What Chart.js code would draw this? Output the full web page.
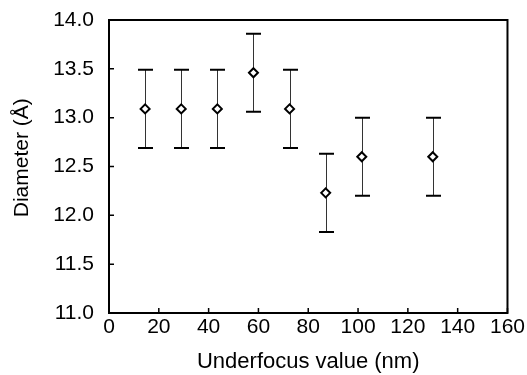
<!DOCTYPE html>
<html>
<head>
<meta charset="utf-8">
<script src="https://cdn.jsdelivr.net/npm/chart.js@4"></script>
<style>
  html, body { margin: 0; padding: 0; background: #fff; }
  #wrap { width: 527px; height: 375px; }
</style>
</head>
<body>
<div id="wrap"><canvas id="chart" width="527" height="375"></canvas></div>
<script>
// data
const underfocus = [14.5, 29, 43.5, 58, 72.5, 87, 101.5, 130];
const diameter = [13.09, 13.09, 13.09, 13.46, 13.09, 12.23, 12.6, 12.6];
const errUp = [0.4, 0.4, 0.4, 0.4, 0.4, 0.4, 0.4, 0.4];
const errDown = [0.4, 0.4, 0.4, 0.4, 0.4, 0.4, 0.4, 0.4];

const FONT = 'Liberation Sans, Arial, Helvetica, sans-serif';

// vertical error bars with caps, under the markers
const errorBars = {
    id: 'errorBars',
    beforeDatasetsDraw(chart) {
        const ctx = chart.ctx;
        const xs = chart.scales.x, ys = chart.scales.y;
        ctx.save();
        underfocus.forEach((x, i) => {
            const px = Math.round(xs.getPixelForValue(x)) + 0.5;
            const top = ys.getPixelForValue(diameter[i] + errUp[i]);
            const bot = ys.getPixelForValue(diameter[i] - errDown[i]);
            ctx.strokeStyle = '#333';
            ctx.lineWidth = 1;
            ctx.beginPath();
            ctx.moveTo(px, top);
            ctx.lineTo(px, bot);
            ctx.stroke();
            ctx.strokeStyle = '#000';
            ctx.lineWidth = 2;
            ctx.beginPath();
            ctx.moveTo(px - 7.5, top); ctx.lineTo(px + 7.5, top);
            ctx.moveTo(px - 7.5, bot); ctx.lineTo(px + 7.5, bot);
            ctx.stroke();
        });
        ctx.restore();
    }
};

// frame around plot area and inward tick marks
const frame = {
    id: 'frame',
    afterDraw(chart) {
        const ctx = chart.ctx;
        const a = chart.chartArea;
        const xs = chart.scales.x, ys = chart.scales.y;
        ctx.save();
        ctx.strokeStyle = '#000';
        ctx.lineWidth = 2;
        ctx.strokeRect(a.left, a.top, a.right - a.left, a.bottom - a.top);
        ctx.lineWidth = 1.5;
        ctx.beginPath();
        xs.ticks.forEach(t => {
            const p = xs.getPixelForValue(t.value);
            ctx.moveTo(p, a.bottom);
            ctx.lineTo(p, a.bottom - 5);
        });
        ys.ticks.forEach(t => {
            const p = ys.getPixelForValue(t.value);
            ctx.moveTo(a.left, p);
            ctx.lineTo(a.left + 5, p);
        });
        ctx.stroke();
        ctx.restore();
    }
};

new Chart(document.getElementById('chart'), {
    type: 'scatter',
    data: {
        datasets: [{
            data: underfocus.map((x, i) => ({ x: x, y: diameter[i] })),
            pointStyle: 'rectRot',
            pointRadius: 4.5,
            pointBackgroundColor: '#fff',
            pointBorderColor: '#000',
            pointBorderWidth: 2,
            showLine: false
        }]
    },
    options: {
        responsive: false,
        animation: false,
        layout: { padding: { left: 0, top: 20, right: 19, bottom: 0 } },
        plugins: {
            legend: { display: false },
            tooltip: { enabled: false }
        },
        scales: {
            x: {
                type: 'linear',
                min: 0,
                max: 160,
                afterFit(scale) { scale.height = 62; },
                ticks: {
                    stepSize: 20,
                    color: '#000',
                    padding: 2,
                    maxRotation: 0,
                    font: { family: FONT, size: 21 }
                },
                grid: { display: false, drawTicks: false },
                border: { display: false },
                title: {
                    display: true,
                    text: 'Underfocus value (nm)',
                    color: '#000',
                    padding: { top: 0, bottom: 0 },
                    font: { family: FONT, size: 22 }
                }
            },
            y: {
                min: 11,
                max: 14,
                afterFit(scale) { scale.width = 109; },
                ticks: {
                    stepSize: 0.5,
                    color: '#000',
                    padding: 2,
                    font: { family: FONT, size: 21 },
                    callback: v => v.toFixed(1)
                },
                // invisible tick marks only to push labels away from the axis
                grid: {
                    display: true,
                    drawOnChartArea: false,
                    drawTicks: true,
                    tickLength: 13,
                    tickColor: 'rgba(0,0,0,0)'
                },
                border: { display: false },
                title: {
                    display: true,
                    text: '   Diameter (Å)',
                    color: '#000',
                    padding: { top: 10, bottom: 0 },
                    font: { family: FONT, size: 21 }
                }
            }
        }
    },
    plugins: [errorBars, frame]
});
</script>
</body>
</html>
